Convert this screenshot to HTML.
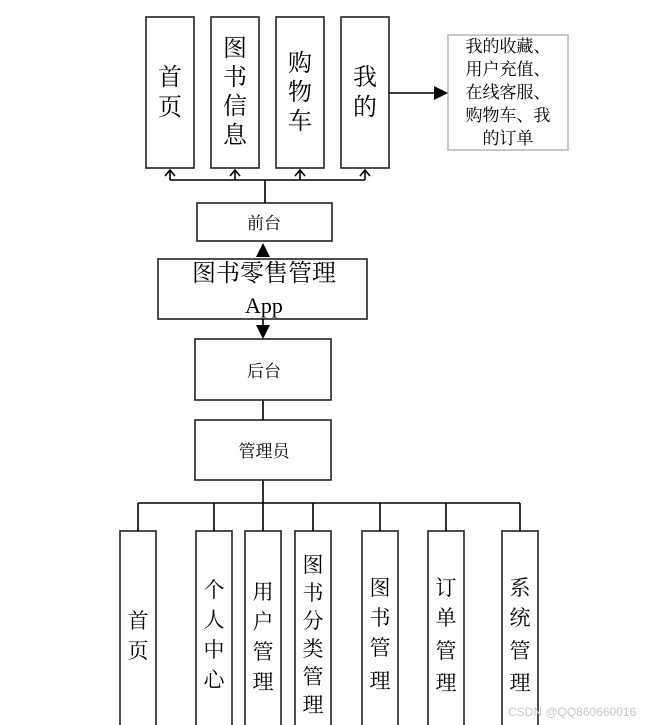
<!DOCTYPE html>
<html><head><meta charset="utf-8"><style>
html,body{margin:0;padding:0;background:#fff;}
svg{display:block;}
text{font-family:"Liberation Serif","Noto Serif CJK SC",serif;fill:#000;}
</style></head><body>
<svg width="651" height="725" viewBox="0 0 651 725" xmlns="http://www.w3.org/2000/svg">
<g fill="#fff" stroke="#222" stroke-width="1.6">
<rect x="146" y="17" width="48" height="151"/>
<rect x="211" y="17" width="48" height="151"/>
<rect x="276" y="17" width="48" height="151"/>
<rect x="341" y="17" width="48" height="151"/>
<rect x="448" y="35" width="120" height="115" stroke="#bbb"/>
<rect x="197" y="203" width="135" height="38"/>
<rect x="158" y="259" width="209" height="60"/>
<rect x="195" y="339" width="136" height="61"/>
<rect x="195" y="420" width="136" height="60"/>
<rect x="120" y="531" width="36" height="200"/>
<rect x="196" y="531" width="36" height="200"/>
<rect x="245" y="531" width="36" height="200"/>
<rect x="295" y="531" width="36" height="200"/>
<rect x="362" y="531" width="36" height="200"/>
<rect x="428" y="531" width="36" height="200"/>
<rect x="502" y="531" width="36" height="200"/>
</g>
<g stroke="#000" stroke-width="1.6" fill="none">
<path d="M170,180 H365 M265,180 V203"/>
<path d="M170,180 V170 M235,180 V170 M300,180 V170 M365,180 V170"/>
<path d="M165,176 L170,170 L175,176 M230,176 L235,170 L240,176 M295,176 L300,170 L305,176 M360,176 L365,170 L370,176"/>
<path d="M389,93 H434"/>
<path d="M263,400 V420 M263,480 V503"/>
<path d="M138,503 H520 M138,503 V531 M214,503 V531 M263,503 V531 M313,503 V531 M380,503 V531 M446,503 V531 M520,503 V531"/>
</g>
<path d="M434,86 L448,93 L434,100 z" fill="#000"/>
<path d="M256,257 L263,243 L270,257 z" fill="#000"/>
<path d="M263,319 V326" stroke="#000" stroke-width="1.6"/>
<path d="M256,325 L263,339 L270,325 z" fill="#000"/>
<g font-size="24" text-anchor="middle">
<text x="170" y="85">首</text><text x="170" y="115">页</text>
<text x="235" y="56">图</text><text x="235" y="85">书</text><text x="235" y="114">信</text><text x="235" y="143">息</text>
<text x="300" y="71">购</text><text x="300" y="100">物</text><text x="300" y="129">车</text>
<text x="365" y="85">我</text><text x="365" y="115">的</text>
</g>
<g font-size="17" text-anchor="middle">
<text x="508" y="52">我的收藏、</text>
<text x="508" y="75">用户充值、</text>
<text x="508" y="98">在线客服、</text>
<text x="508" y="121">购物车、我</text>
<text x="508" y="144">的订单</text>
<text x="264" y="229">前台</text>
<text x="264" y="377">后台</text>
<text x="264" y="457">管理员</text>
</g>
<text x="264" y="281" font-size="24" text-anchor="middle">图书零售管理</text>
<text x="264" y="313" font-size="22" text-anchor="middle">App</text>
<g font-size="21" text-anchor="middle">
<text x="138" y="628">首</text><text x="138" y="658">页</text>
<text x="214" y="597">个</text><text x="214" y="627">人</text><text x="214" y="657">中</text><text x="214" y="687">心</text>
<text x="263" y="599">用</text><text x="263" y="629">户</text><text x="263" y="659">管</text><text x="263" y="689">理</text>
<text x="313" y="572">图</text><text x="313" y="600">书</text><text x="313" y="628">分</text><text x="313" y="656">类</text><text x="313" y="684">管</text><text x="313" y="712">理</text>
<text x="380" y="595">图</text><text x="380" y="625">书</text><text x="380" y="655">管</text><text x="380" y="688">理</text>
<text x="446" y="595">订</text><text x="446" y="625">单</text><text x="446" y="658">管</text><text x="446" y="690">理</text>
<text x="520" y="595">系</text><text x="520" y="625">统</text><text x="520" y="658">管</text><text x="520" y="690">理</text>
</g>
<text x="508" y="716" font-size="12" style="fill:#c8c8c8;font-family:'Liberation Sans',sans-serif">CSDN @QQ860660016</text>
</svg>
</body></html>
